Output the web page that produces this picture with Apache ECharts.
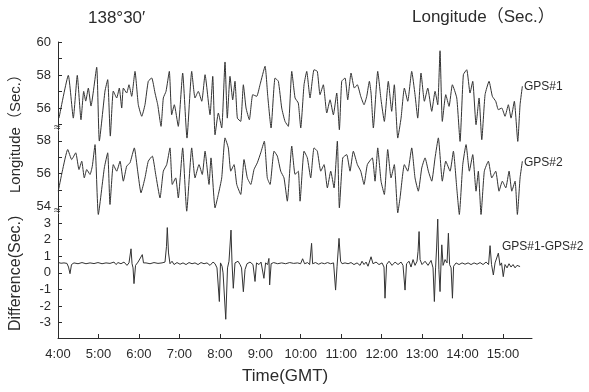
<!DOCTYPE html>
<html>
<head>
<meta charset="utf-8">
<script src="https://cdn.jsdelivr.net/npm/echarts@6/dist/echarts.min.js"></script>
<style>
  html, body { margin: 0; padding: 0; background: #fff; }
  #chart { width: 589px; height: 392px; }
</style>
</head>
<body>
<div id="chart"></div>
<script>
// time in minutes after 4:00 GMT
const hourLabels = ["4:00", "5:00", "6:00", "7:00", "8:00", "9:00", "10:00", "11:00", "12:00", "13:00", "14:00", "15:00"];
const hourTicks = [0, 60, 120, 180, 240, 300, 360, 420, 480, 540, 600, 660];

const gps1Time = [1.5,15.3,22.7,28.6,34.1,38.1,41.1,45.0,48.9,57.4,61.3,69.7,73.7,77.6,82.0,87.1,90.9,94.5,96.9,101.9,105.3,109.3,114.2,119.1,124.2,129.0,133.9,139.0,143.9,147.9,152.8,156.2,160.2,165.1,168.6,172.5,178.4,184.9,191.3,198.3,203.2,208.1,213.2,218.1,225.5,229.5,232.9,237.8,242.8,247.7,251.1,255.1,259.1,262.5,266.0,271.0,274.9,278.9,283.8,288.8,294.7,299.6,307.1,311.1,316.0,321.9,326.8,331.8,336.7,341.6,346.7,351.6,356.4,360.0,364.9,368.9,373.8,379.7,384.6,388.6,393.5,398.6,403.5,408.4,413.4,417.3,420.8,425.7,429.7,434.6,439.5,443.9,449.0,453.9,457.9,461.8,464.3,467.7,474.2,479.1,484.0,489.9,494.9,498.8,503.9,508.8,513.7,518.7,524.6,529.5,533.5,538.4,543.4,548.4,554.3,559.2,563.2,566.6,570.0,575.1,580.0,584.9,591.4,596.3,601.2,606.2,611.1,615.1,620.0,624.5,628.5,633.4,639.3,644.2,649.2,653.1,658.1,663.0,667.9,671.9,676.8,681.9,685.3,688.7];
const gps1Lon = [55.39,57.98,55.39,57.98,55.29,57.01,56.42,57.21,56.12,58.47,54.0,57.03,57.72,54.30,57.03,56.61,57.21,56.0,57.21,56.91,57.41,56.71,58.22,56.2,55.5,56.2,57.62,57.82,56.91,56.2,54.89,56.61,57.01,58.22,55.59,56.2,54.89,58.12,54.18,58.22,56.61,57.01,56.41,58.02,55.59,57.92,54.38,55.70,54.79,58.79,55.39,57.92,56.5,57.62,55.39,55.19,57.41,56.0,55.29,56.81,56.71,57.41,58.53,56.71,54.79,57.82,57.62,56.0,55.19,54.89,58.22,56.61,56.30,54.79,57.41,58.22,56.61,58.32,58.22,56.81,57.41,55.70,56.5,55.59,56.91,54.68,57.62,57.82,56.5,58.12,57.21,57.41,56.71,56.2,56.71,57.62,56.91,54.79,58.22,56.5,55.19,57.62,55.8,57.41,54.18,55.39,57.21,56.41,58.22,56.81,55.39,58.12,56.41,57.21,55.8,57.01,56.2,59.47,55.19,56.81,56.1,57.41,56.61,53.98,58.02,58.32,56.91,57.62,54.99,56.61,54.08,56.81,57.62,56.71,56.41,55.9,56.0,55.5,56.2,55.39,56.41,53.98,56.2,57.32];

const gps2Time = [0.4,6.4,14.4,20.3,26.3,31.1,35.2,39.0,42.6,47.5,50.9,54.9,59.8,68.7,73.7,77.1,82.0,87.1,92.0,96.9,101.9,106.8,113.2,118.2,123.1,129.0,133.9,139.9,144.9,151.3,156.2,161.2,166.1,169.5,174.6,178.4,184.9,190.9,198.3,203.2,209.1,214.0,218.1,224.0,226.9,232.9,237.8,242.8,247.7,252.6,256.2,261.1,265.1,271.0,275.9,280.8,285.9,290.7,295.6,300.7,306.0,310.4,314.5,320.4,325.3,330.3,335.2,340.1,346.7,351.6,356.4,359.0,364.9,369.8,374.8,379.7,384.6,389.7,394.6,399.5,404.5,409.4,414.3,417.3,422.3,428.2,433.1,438.0,444.0,449.0,453.9,458.8,466.2,470.2,474.2,479.1,484.0,489.0,493.9,498.8,503.9,507.3,513.7,518.7,524.6,529.5,534.4,539.5,544.4,549.3,554.3,559.2,564.1,570.0,575.1,581.5,586.4,591.4,595.2,600.3,605.2,610.1,615.1,620.0,623.4,627.4,632.3,638.3,643.3,649.2,654.1,659.0,664.1,669.0,673.0,677.9,681.3,685.3,688.7];
const gps2Lon = [54.93,56.15,57.47,56.86,57.27,56.25,56.76,55.74,56.25,55.95,56.46,57.77,53.51,56.35,57.27,54.12,56.55,56.15,56.76,55.54,56.46,56.66,57.57,56.15,54.83,55.74,56.76,57.07,55.95,54.52,56.15,56.55,57.57,55.34,55.74,54.52,57.57,53.71,57.57,55.74,56.55,55.95,57.37,55.34,56.96,53.91,54.73,55.74,58.18,57.57,56.15,56.55,55.34,54.73,56.86,55.74,55.34,56.25,56.66,57.27,57.98,55.74,55.34,57.37,57.07,56.15,55.74,54.32,57.68,55.95,56.15,54.32,57.37,56.96,55.74,57.57,57.37,56.15,56.55,55.13,56.15,55.13,57.98,53.91,56.96,57.16,56.15,57.37,56.55,56.15,55.34,56.55,56.96,55.54,57.57,55.54,54.73,57.47,55.74,56.55,53.61,54.52,56.55,56.15,57.57,55.74,54.93,56.35,56.96,56.15,55.54,56.96,58.18,55.54,56.76,56.15,57.37,55.13,53.51,56.55,57.77,56.15,57.16,54.93,56.15,53.51,56.15,56.76,55.74,56.15,54.93,55.54,55.13,56.15,54.93,55.54,53.51,55.74,56.76];

const diffTime = [0.7,4.5,8.9,13.3,15.6,17.8,20.0,23.7,29.7,35.6,41.5,47.5,53.4,59.3,65.3,71.2,77.1,83.1,86.0,89.0,93.4,97.9,102.3,105.3,108.3,109.8,111.3,112.7,115.0,118.7,121.6,125.0,126.8,130.5,136.5,142.4,148.3,154.3,158.7,160.9,162.1,163.9,166.1,169.1,172.1,176.5,181.0,185.4,189.9,194.3,198.8,203.2,207.7,212.1,216.6,221.0,225.5,229.9,232.9,235.8,239.3,241.0,243.3,244.8,248.8,251.4,253.6,256.6,258.1,260.0,262.5,267.0,270.0,272.2,274.9,277.4,280.3,284.8,289.2,292.2,294.4,298.1,301.1,305.4,307.9,310.9,312.8,313.9,316.1,319.8,325.8,331.7,337.6,343.6,349.5,355.3,359.8,362.8,365.7,370.2,373.2,376.1,377.6,382.0,386.5,390.9,395.4,399.8,404.3,408.7,411.7,413.9,416.8,419.1,421.3,425.7,430.2,434.6,439.0,443.5,448.0,450.9,453.9,456.9,459.8,464.3,467.2,471.7,476.1,480.6,483.5,485.0,487.3,491.0,495.4,499.9,504.3,508.8,511.7,514.7,516.9,520.6,523.6,526.6,529.5,532.5,534.0,535.5,537.0,539.9,544.4,548.8,553.3,556.2,558.2,560.0,561.5,563.2,564.9,566.6,568.1,569.2,571.1,574.1,577.0,579.0,580.8,583.0,585.0,586.7,590.4,594.8,599.3,603.7,608.2,612.6,617.1,621.5,626.0,630.4,634.9,638.6,640.8,643.0,645.7,648.2,650.4,653.1,655.6,657.8,660.4,663.0,666.0,668.9,671.9,674.9,677.9,680.8,685.3];
const diffSec = [0.62,0.58,0.6,0.57,0.35,-0.05,0.5,0.6,0.55,0.62,0.55,0.6,0.56,0.62,0.55,0.6,0.57,0.65,0.5,0.62,0.55,0.65,0.45,0.6,1.45,0.55,0.3,-0.65,0.45,0.65,0.55,1.1,0.6,0.6,0.55,0.62,0.57,0.6,0.65,1.6,2.73,1.2,0.55,0.7,0.5,0.62,0.52,0.6,0.5,0.62,0.55,0.6,0.5,0.62,0.55,0.6,0.45,0.65,0.55,0.3,-1.73,0.6,0.4,0.0,-2.8,0.3,0.7,2.58,0.6,-0.93,0.6,0.7,0.5,0.3,-1.14,0.2,0.55,0.65,0.5,-0.52,0.6,0.5,0.65,-0.33,0.6,0.5,0.87,-0.73,0.55,0.62,0.55,0.6,0.55,0.62,0.57,0.6,0.55,0.85,0.55,0.62,0.5,1.78,0.55,0.62,0.52,0.6,0.55,0.62,0.55,0.6,-1.04,0.4,2.08,0.7,0.55,0.6,0.55,0.62,0.5,0.6,0.45,0.7,0.5,0.65,0.4,0.97,0.55,0.65,0.5,0.6,0.35,-1.53,0.5,0.7,0.45,0.65,0.5,0.65,0.45,-1.04,0.55,0.7,0.35,0.8,0.45,0.7,1.3,2.49,0.8,0.5,0.7,0.45,0.75,0.3,-1.73,0.3,1.5,3.24,0.2,-1.13,0.6,1.69,0.45,0.8,0.6,2.39,0.5,0.3,-1.53,0.4,0.6,0.5,0.6,0.52,0.6,0.5,0.6,0.52,0.62,0.5,0.65,0.5,1.64,0.5,-0.13,0.6,0.5,1.19,0.45,0.6,-0.23,0.5,0.3,0.55,0.35,0.5,0.3,0.45,0.38];

const panel1Labels = [56, 58, 60];
const panel1Ticks = [55, 56, 57, 58, 59, 60];
const panel2Labels = [54, 56, 58];
const panel2Ticks = [54, 55, 56, 57, 58];
const diffLabels = [-3, -2, -1, 0, 1, 2, 3];

const FONT = "'Liberation Sans', Arial, 'Noto Sans CJK JP', sans-serif";
const INK = "#2b2b2b";

const zip = (t, v) => t.map((x, i) => [x, v[i]]);

const chart = echarts.init(document.getElementById("chart"), null, { renderer: "canvas" });

const baseY = (min, max, labels, ticks) => ({
  type: "value",
  min: min,
  max: max,
  axisLine: { show: true, lineStyle: { color: INK, width: 1 } },
  axisTick: { show: true, inside: true, length: 4, customValues: ticks, lineStyle: { color: INK } },
  axisLabel: { customValues: labels, color: INK, fontFamily: FONT, fontSize: 13, margin: 7 },
  splitLine: { show: false }
});

const baseX = (show) => ({
  type: "value",
  min: 0,
  max: 703,
  axisLine: { show: show, onZero: false, lineStyle: { color: INK, width: 1 } },
  axisTick: { show: show, inside: true, length: 4, customValues: hourTicks, lineStyle: { color: INK } },
  axisLabel: {
    show: show,
    customValues: hourTicks,
    formatter: (v) => hourLabels[Math.round(v / 60)] || "",
    color: INK, fontFamily: FONT, fontSize: 13, margin: 10
  },
  splitLine: { show: false }
});

const lineSeries = (idx, data, smooth) => ({
  type: "line",
  xAxisIndex: idx,
  yAxisIndex: idx,
  data: data,
  showSymbol: false,
  smooth: smooth,
  clip: false,
  lineStyle: { color: "#333", width: 1 },
  emphasis: { disabled: true }
});

const txt = (left, top, text, size, extra) => Object.assign({
  type: "text", left: left, top: top,
  style: { text: text, fill: INK, font: size + "px " + FONT }
}, extra || {});

chart.setOption({
  animation: false,
  backgroundColor: "#fff",
  grid: [
    { left: 58, right: 57, top: 42, height: 88 },
    { left: 58, right: 57, top: 131, height: 82 },
    { left: 58, right: 57, top: 214, height: 124 }
  ],
  xAxis: [
    Object.assign(baseX(false), { gridIndex: 0 }),
    Object.assign(baseX(false), { gridIndex: 1 }),
    Object.assign(baseX(true), { gridIndex: 2 })
  ],
  yAxis: [
    Object.assign(baseY(54.67, 60, panel1Labels, panel1Ticks), { gridIndex: 0 }),
    Object.assign(baseY(53.6, 58.6, panel2Labels, panel2Ticks), { gridIndex: 1 }),
    Object.assign(baseY(-3.93, 3.55, diffLabels, diffLabels), { gridIndex: 2 })
  ],
  series: [
    lineSeries(0, zip(gps1Time, gps1Lon), 0.15),
    lineSeries(1, zip(gps2Time, gps2Lon), 0.15),
    lineSeries(2, zip(diffTime, diffSec), false)
  ],
  graphic: [
    txt(88, 10, "138°30′", 17),
    txt(412, 9, "Longitude（Sec.）", 17),
    txt(524, 81, "GPS#1", 12),
    txt(524, 157, "GPS#2", 12),
    txt(502, 241, "GPS#1-GPS#2", 12),
    txt(242, 368, "Time(GMT)", 17),
    txt(54, 122, "≈", 12),
    txt(54, 205, "≈", 12),
    {
      type: "text", x: 8, y: 193, rotation: Math.PI / 2,
      style: { text: "Longitude（Sec.）", fill: INK, font: "15px " + FONT }
    },
    {
      type: "text", x: 8, y: 331, rotation: Math.PI / 2,
      style: { text: "Difference(Sec.)", fill: INK, font: "16px " + FONT }
    }
  ]
});
</script>
</body>
</html>
